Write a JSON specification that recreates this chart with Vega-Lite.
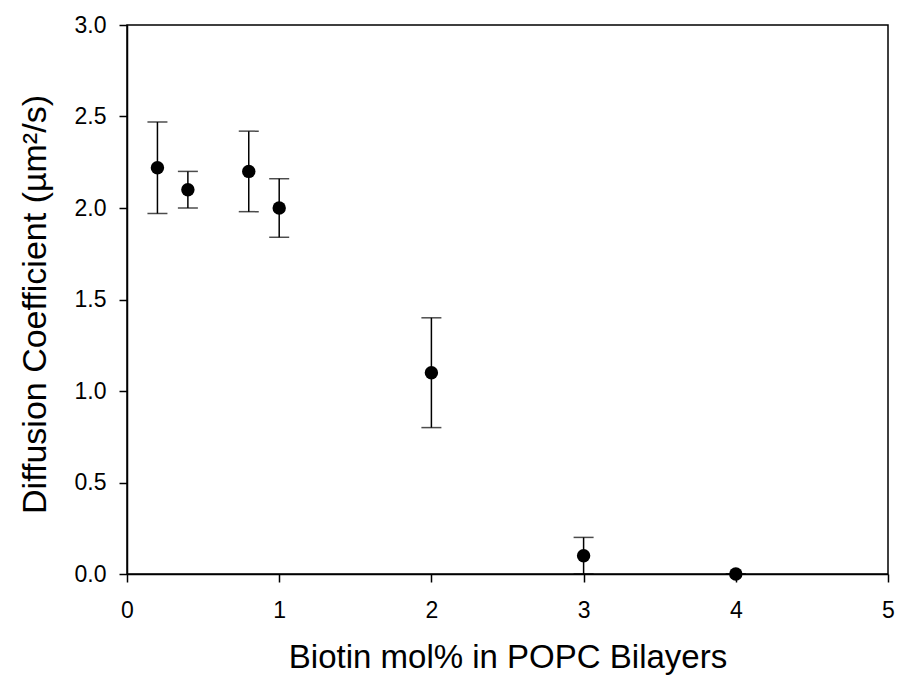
{
  "$schema": "https://vega.github.io/schema/vega-lite/v6.json",
  "autosize": "none",
  "width": 761,
  "height": 549,
  "padding": {"left": 127, "top": 25, "right": 10, "bottom": 107},
  "background": "white",
  "config": {
    "view": {"stroke": "black", "strokeWidth": 1.5},
    "font": "Liberation Sans",
    "axis": {
      "grid": false,
      "domainColor": "black",
      "domainWidth": 1.5,
      "tickColor": "black",
      "tickWidth": 1.5,
      "tickSize": 8,
      "labelColor": "black",
      "labelFont": "Liberation Sans",
      "labelFontSize": 23,
      "labelFlush": false,
      "titleFont": "Liberation Sans",
      "titleFontSize": 33,
      "titleFontWeight": "normal",
      "titleColor": "black"
    }
  },
  "data": {
    "values": [
      {"x": 0.2, "y": 2.22, "lo": 1.97, "hi": 2.47},
      {"x": 0.4, "y": 2.1, "lo": 2.0, "hi": 2.2},
      {"x": 0.8, "y": 2.2, "lo": 1.98, "hi": 2.42},
      {"x": 1.0, "y": 2.0, "lo": 1.84, "hi": 2.16},
      {"x": 2.0, "y": 1.1, "lo": 0.8, "hi": 1.4},
      {"x": 3.0, "y": 0.1, "lo": 0.0, "hi": 0.2},
      {"x": 4.0, "y": 0.0, "lo": 0.0, "hi": 0.0}
    ]
  },
  "encoding": {
    "x": {
      "field": "x",
      "type": "quantitative",
      "scale": {"domain": [0, 5], "nice": false, "zero": false},
      "axis": {
        "values": [0, 1, 2, 3, 4, 5],
        "format": "d",
        "title": "Biotin mol% in POPC Bilayers",
        "labelPadding": 17,
        "titlePadding": 19
      }
    }
  },
  "layer": [
    {
      "mark": {"type": "rule", "color": "black", "strokeWidth": 1.5},
      "encoding": {
        "y": {
          "field": "lo",
          "type": "quantitative",
          "scale": {"domain": [0, 3], "nice": false, "zero": false},
          "axis": {
            "values": [0, 0.5, 1, 1.5, 2, 2.5, 3],
            "format": ".1f",
            "title": "Diffusion Coefficient (µm²/s)",
            "titleFontSize": 34,
            "titleY": 279,
            "labelPadding": 13,
            "titlePadding": 22
          }
        },
        "y2": {"field": "hi"}
      }
    },
    {
      "mark": {"type": "tick", "orient": "horizontal", "color": "black", "size": 20, "thickness": 1.5},
      "encoding": {"y": {"field": "hi", "type": "quantitative"}}
    },
    {
      "mark": {"type": "tick", "orient": "horizontal", "color": "black", "size": 20, "thickness": 1.5},
      "encoding": {"y": {"field": "lo", "type": "quantitative"}}
    },
    {
      "mark": {"type": "point", "filled": true, "shape": "circle", "color": "black", "opacity": 1, "size": 180},
      "encoding": {"y": {"field": "y", "type": "quantitative"}}
    }
  ]
}
